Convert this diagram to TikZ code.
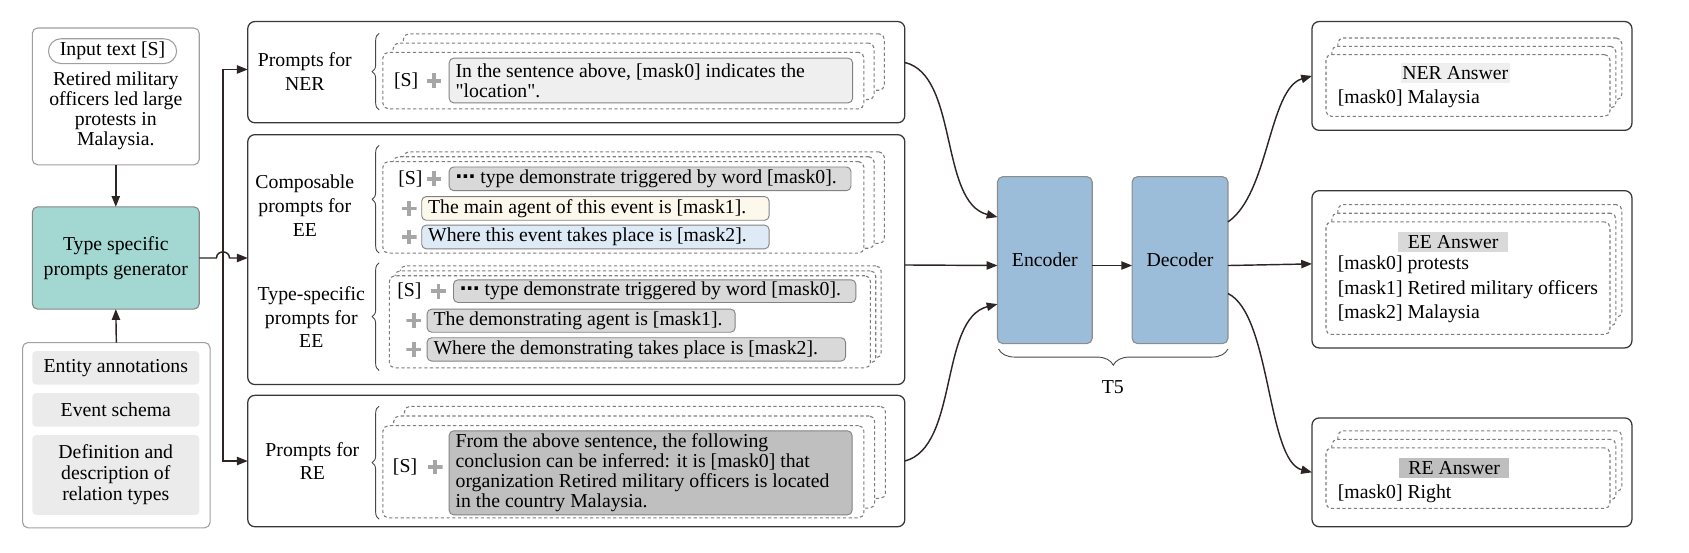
\documentclass[tikz,border=0pt]{standalone}
\usepackage{fontspec}
\setmainfont{Liberation Serif}
\newfontfamily\qfont{Liberation Serif}
\newfontfamily\dotfont{DejaVu Sans}
\usetikzlibrary{fit,arrows.meta,decorations.pathreplacing}
\definecolor{tealc}{RGB}{163,216,210}
\definecolor{encc}{RGB}{155,189,217}
\definecolor{gA}{RGB}{239,239,239}
\definecolor{gB}{RGB}{217,217,217}
\definecolor{gC}{RGB}{191,191,191}
\definecolor{gK}{RGB}{235,235,235}
\definecolor{creamc}{RGB}{253,248,236}
\definecolor{lbluec}{RGB}{222,234,246}
\definecolor{linec}{RGB}{45,36,36}
\definecolor{bordc}{RGB}{55,55,55}
\definecolor{dashc}{RGB}{125,125,125}
\definecolor{boxc}{RGB}{130,130,130}
\newcommand\dstack[7]{%
  \node[dbox, fit={({#2+2*#6},{#3-2*#7}) ({#4+2*#6},{#5-2*#7})}] (#1c) {};
  \node[dbox, fit={({#2+#6},{#3-#7}) ({#4+#6},{#5-#7})}] (#1b) {};
  \node[dbox, fit={(#2,#3) (#4,#5)}] (#1a) {};
}
\newcommand\mdots{{\dotfont\bfseries\char"22EF}}
\tikzset{
  every node/.style={font=\fontsize{11}{11.2}\selectfont, inner sep=0pt, outer sep=0pt},
  panel/.style={draw=bordc, line width=0.7pt, rounded corners=4pt},
  lpanel/.style={draw=gray!75, line width=0.6pt, rounded corners=3pt},
  dbox/.style={draw=dashc, line width=0.6pt, dash pattern=on 1.8pt off 1.4pt, rounded corners=3pt, fill=white},
  tbox/.style={draw=boxc, line width=0.5pt, rounded corners=2.5pt},
  kbox/.style={fill=gK, rounded corners=2pt},
  arr/.style={draw=linec, line width=0.8pt, -{Triangle[length=6pt,width=4.6pt]}},
  plus/.style={minimum size=8.2pt, path picture={\draw[gray!70, line width=2.1pt]
      (path picture bounding box.north) -- (path picture bounding box.south)
      (path picture bounding box.west) -- (path picture bounding box.east);}},
  lab/.style={align=center, font=\fontsize{11}{13.2}\selectfont},
  txt/.style={anchor=west, align=left},
  brc/.style={draw=linec!85, line width=0.5pt, decorate, decoration={brace, amplitude=3.9pt}},
  ansl/.style={minimum width=61pt, minimum height=10.8pt},
}
\begin{document}
\begin{tikzpicture}[x=0.6pt,y=-0.6pt]
\useasboundingbox (0,0) rectangle (1568,513);
% ---------- left column
\node[lpanel, fit={(30,26) (185,153)}] (inbox) {};
\node[draw=gray!75, line width=0.6pt, rounded corners=7pt, fit={(45,36) (164,59)}] (pill) {};
\node (pilltxt) at (pill.center) {Input text [S]};
\node[align=center, font=\fontsize{11}{11.2}\selectfont] (intxt) at (107.5,103) {Retired military\\officers led large\\protests in\\Malaysia.};
\node[lpanel, fill=tealc, draw=gray!95, fit={(30,192) (185,287)}] (gen) {};
\node[align=center, font=\fontsize{11}{13.8}\selectfont] (gentxt) at (gen.center) {Type specific\\prompts generator};
\node[lpanel, fit={(21,318) (195,490)}] (know) {};
\node[kbox, fit={(30,326) (185,357)}] (k1) {};
\node (k1t) at (k1.center) {Entity annotations};
\node[kbox, fit={(30,365) (185,396)}] (k2) {};
\node (k2t) at (k2.center) {Event schema};
\node[kbox, fit={(30,404) (185,478)}] (k3) {};
\node[align=center, font=\fontsize{11}{11.7}\selectfont] (k3t) at (k3.center) {Definition and\\description of\\relation types};
\draw[arr] (inbox.south) -- (gen.north);
\draw[arr] (know.north) -- (gen.south);
% ---------- prompt panels
\node[panel, fit={(230,20) (840,114)}] (pner) {};
\node[panel, fit={(230,125) (840,357)}] (pee) {};
\node[panel, fit={(230,367) (840,489)}] (pre) {};
\node[lab] (lner) at (283,66.5) {Prompts for\\NER};
\node[lab] (lcomp) at (283,191) {Composable\\prompts for\\EE};
\node[lab] (ltype) at (289,294.5) {Type-specific\\prompts for\\EE};
\node[lab] (lre) at (290,428) {Prompts for\\RE};
\draw[brc] (352,102) -- (352,31);
\draw[brc] (352,235) -- (352,135);
\draw[brc] (352,344) -- (352,244);
\draw[brc] (352,482) -- (352,377);
% branch connectors
\coordinate (jn) at (207,239.5);
\draw[arr] (jn) |- ([yshift=1.5pt]pner.west);
\draw[arr] (jn) |- (pre.west);
\draw[arr] (gen.east) -- (201,239.5) .. controls (201,232) and (213,232) .. (213,239.5) -- (pee.west |- gen.east);
% NER stack
\dstack{sner}{355.5}{48.6}{802}{101}{9.5}{8.6}
\node[plus] (pn) at (403,75) {};
\node (sn) at (377,75) {[S]};
\node[tbox, fill=gA, fit={(417,54) (791.5,95.5)}] (bner) {};
\node[txt, font=\fontsize{11}{11}\selectfont] (tner) at ([xshift=3.6pt]bner.west) {In the sentence above, [mask0] indicates the\\{\qfont "location".}};
% Composable stack
\dstack{scmp}{355.5}{150}{802}{235}{9.5}{4.5}
\node (sc) at (381,166) {[S]};
\node[plus] (pc1) at (403,166) {};
\node[tbox, fill=gB, fit={(417,155) (790,177)}] (bc1) {};
\node[txt] (tc1) at ([xshift=3.6pt]bc1.west) {\mdots{} type demonstrate triggered by word [mask0].};
\node[plus] (pc2) at (380,193.5) {};
\node[tbox, fill=creamc, fit={(391.5,182.5) (714,204.5)}] (bc2) {};
\node[txt] (tc2) at ([xshift=3.6pt]bc2.west) {The main agent of this event is [mask1].};
\node[plus] (pc3) at (380,220) {};
\node[tbox, fill=lbluec, fit={(391.5,209) (714,231)}] (bc3) {};
\node[txt] (tc3) at ([xshift=3.6pt]bc3.west) {Where this event takes place is [mask2].};
% Type-specific stack
\dstack{styp}{361.5}{256}{808}{341.5}{5}{4.6}
\node (st) at (380,270.3) {[S]};
\node[plus] (pt1) at (407,270.3) {};
\node[tbox, fill=gB, fit={(421,259.8) (794.5,280.8)}] (bt1) {};
\node[txt] (tt1) at ([xshift=3.6pt]bt1.west) {\mdots{} type demonstrate triggered by word [mask0].};
\node[plus] (pt2) at (384,297.6) {};
\node[tbox, fill=gB, fit={(396.5,287) (682.5,308.4)}] (bt2) {};
\node[txt] (tt2) at ([xshift=3.6pt]bt2.west) {The demonstrating agent is [mask1].};
\node[plus] (pt3) at (384,324.4) {};
\node[tbox, fill=gB, fit={(396.5,313.6) (785,335.2)}] (bt3) {};
\node[txt] (tt3) at ([xshift=3.6pt]bt3.west) {Where the demonstrating takes place is [mask2].};
% RE stack
\dstack{sre}{355.5}{395.2}{802}{480.7}{10}{9}
\node (sr) at (376,433.6) {[S]};
\node[plus] (pr) at (404,433.6) {};
\node[tbox, fill=gC, fit={(417,400) (791,478)}] (bre) {};
\node[txt, font=\fontsize{11}{11.1}\selectfont] (tre) at ([xshift=3.6pt]bre.west) {From the above sentence, the following\\conclusion can be inferred: it is [mask0] that\\organization Retired military officers is located\\in the country Malaysia.};
% ---------- T5
\node[tbox, draw=gray!90, line width=0.6pt, fill=encc, rounded corners=3pt, fit={(926,164) (1014,319)}] (enc) {};
\node (enct) at (enc.center) {Encoder};
\node[tbox, draw=gray!90, line width=0.6pt, fill=encc, rounded corners=3pt, fit={(1051,164) (1140,319)}] (dec) {};
\node (dect) at (dec.center) {Decoder};
\draw[brc, decoration={brace, amplitude=9pt}] (1140,324) -- (927,324);
\node (t5) at (1033,359) {T5};
\draw[arr] ([yshift=-3pt]enc.east) -- ([yshift=-3pt]dec.west);
\draw[arr] ([yshift=-3pt]pee.east) -- ([yshift=-3pt]enc.west);
\draw[arr] ([yshift=5.4pt]pner.east) .. controls (890,70) and (872,188) .. ([yshift=24pt]enc.west);
\draw[arr] ([yshift=0pt]pre.east) .. controls (890,415) and (872,296) .. ([yshift=-24.5pt]enc.west);
% ---------- answers
\node[panel, fit={(1218,20) (1515,121)}] (nera) {};
\node[panel, fit={(1218,177) (1515,323)}] (eea) {};
\node[panel, fit={(1218,388) (1515,489)}] (rea) {};
\dstack{anr}{1231}{50.7}{1494.6}{108}{5.5}{7.7}
\dstack{aee}{1231}{206}{1494.6}{310.5}{5.5}{8}
\dstack{are}{1231}{415.8}{1494.6}{472}{5.5}{7.9}
\node[ansl, fill=gA] (nerl) at (1351,67.8) {NER Answer};
\node[txt] (nert) at (1242,91.5) {[mask0] Malaysia};
\node[ansl, fill=gB] (eel) at (1349,224.7) {EE Answer};
\node[txt] (eet1) at (1242,245.8) {[mask0] protests};
\node[txt] (eet2) at (1242,268.7) {[mask1] Retired military officers};
\node[txt] (eet3) at (1242,291) {[mask2] Malaysia};
\node[ansl, fill=gC] (rel) at (1350,434.6) {RE Answer};
\node[txt] (ret) at (1242,458.6) {[mask0] Right};
\draw[arr] ([yshift=21.3pt]dec.east) .. controls (1178,180) and (1178,82) .. (nera.west);
\draw[arr] ([yshift=-3pt]dec.east) -- ([yshift=3pt]eea.west);
\draw[arr] ([yshift=-18.6pt]dec.east) .. controls (1180,292) and (1176,428) .. (rea.west);
\end{tikzpicture}
\end{document}
